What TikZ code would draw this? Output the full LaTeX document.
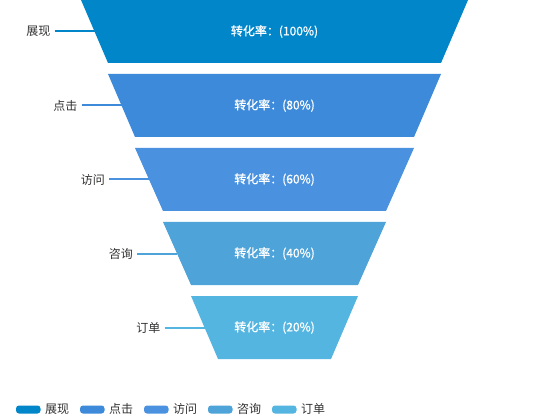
\documentclass[tikz,border=0pt]{standalone}
\usepackage{fontspec}
\setmainfont{Noto Sans CJK SC}
\newfontfamily\pctfont[FakeBold=0.8]{Noto Sans CJK SC}
\definecolor{c1}{RGB}{0,134,201}
\definecolor{c2}{RGB}{60,138,217}
\definecolor{c3}{RGB}{74,146,224}
\definecolor{c4}{RGB}{78,163,217}
\definecolor{c5}{RGB}{84,181,225}
\definecolor{lbl}{RGB}{51,51,51}
\begin{document}
\begin{tikzpicture}[x=1pt,y=-1pt,
  pct/.style={text=white,font=\pctfont\fontsize{12}{13}\selectfont,inner sep=0pt},
  lab/.style={text=lbl,font=\fontsize{12}{13}\selectfont,inner sep=0pt,anchor=east},
  ltxt/.style={text=lbl,font=\fontsize{12}{13}\selectfont,inner sep=0pt,anchor=west}]
\useasboundingbox (0,0) rectangle (550,420);
\fill[white] (0,0) rectangle (550,420);
% funnel segments
\foreach \i/\c/\ty/\tl/\tr/\bl/\br/\p/\name in {
  1/c1/0/81/468/108/441/100/展现,
  2/c2/74/108/441/135/414/80/点击,
  3/c3/148/135/414/163/386/60/访问,
  4/c4/222/163/386/191/358/40/咨询,
  5/c5/296/191/358/218/331/20/订单}{
  \fill[fill=\c] (\tl,\ty) -- (\tr,\ty) -- (\br,\ty+63) -- (\bl,\ty+63) -- cycle;
  \node[pct] (p\i) at (274.5,\ty+31.5) {转化率：(\p\%)};
  \coordinate (e\i) at ({(\tl+\bl)/2},\ty+31.5);
  \coordinate (s\i) at ({(\tl+\bl)/2-40},\ty+31.5);
  \node[lab] (n\i) at ({(\tl+\bl)/2-44},\ty+31.5) {\name};
  \draw[draw=\c,line width=2pt] (s\i) -- (e\i);
}
% legend
\foreach \i/\c/\x/\name in {1/c1/16/展现,2/c2/80/点击,3/c3/144/访问,4/c4/208/咨询,5/c5/272/订单}{
  \fill[fill=\c,rounded corners=3pt] (\x,405.5) rectangle (\x+24.5,413.5);
  \node[ltxt] (l\i) at (\x+29,409) {\name};
}
\end{tikzpicture}
\end{document}
